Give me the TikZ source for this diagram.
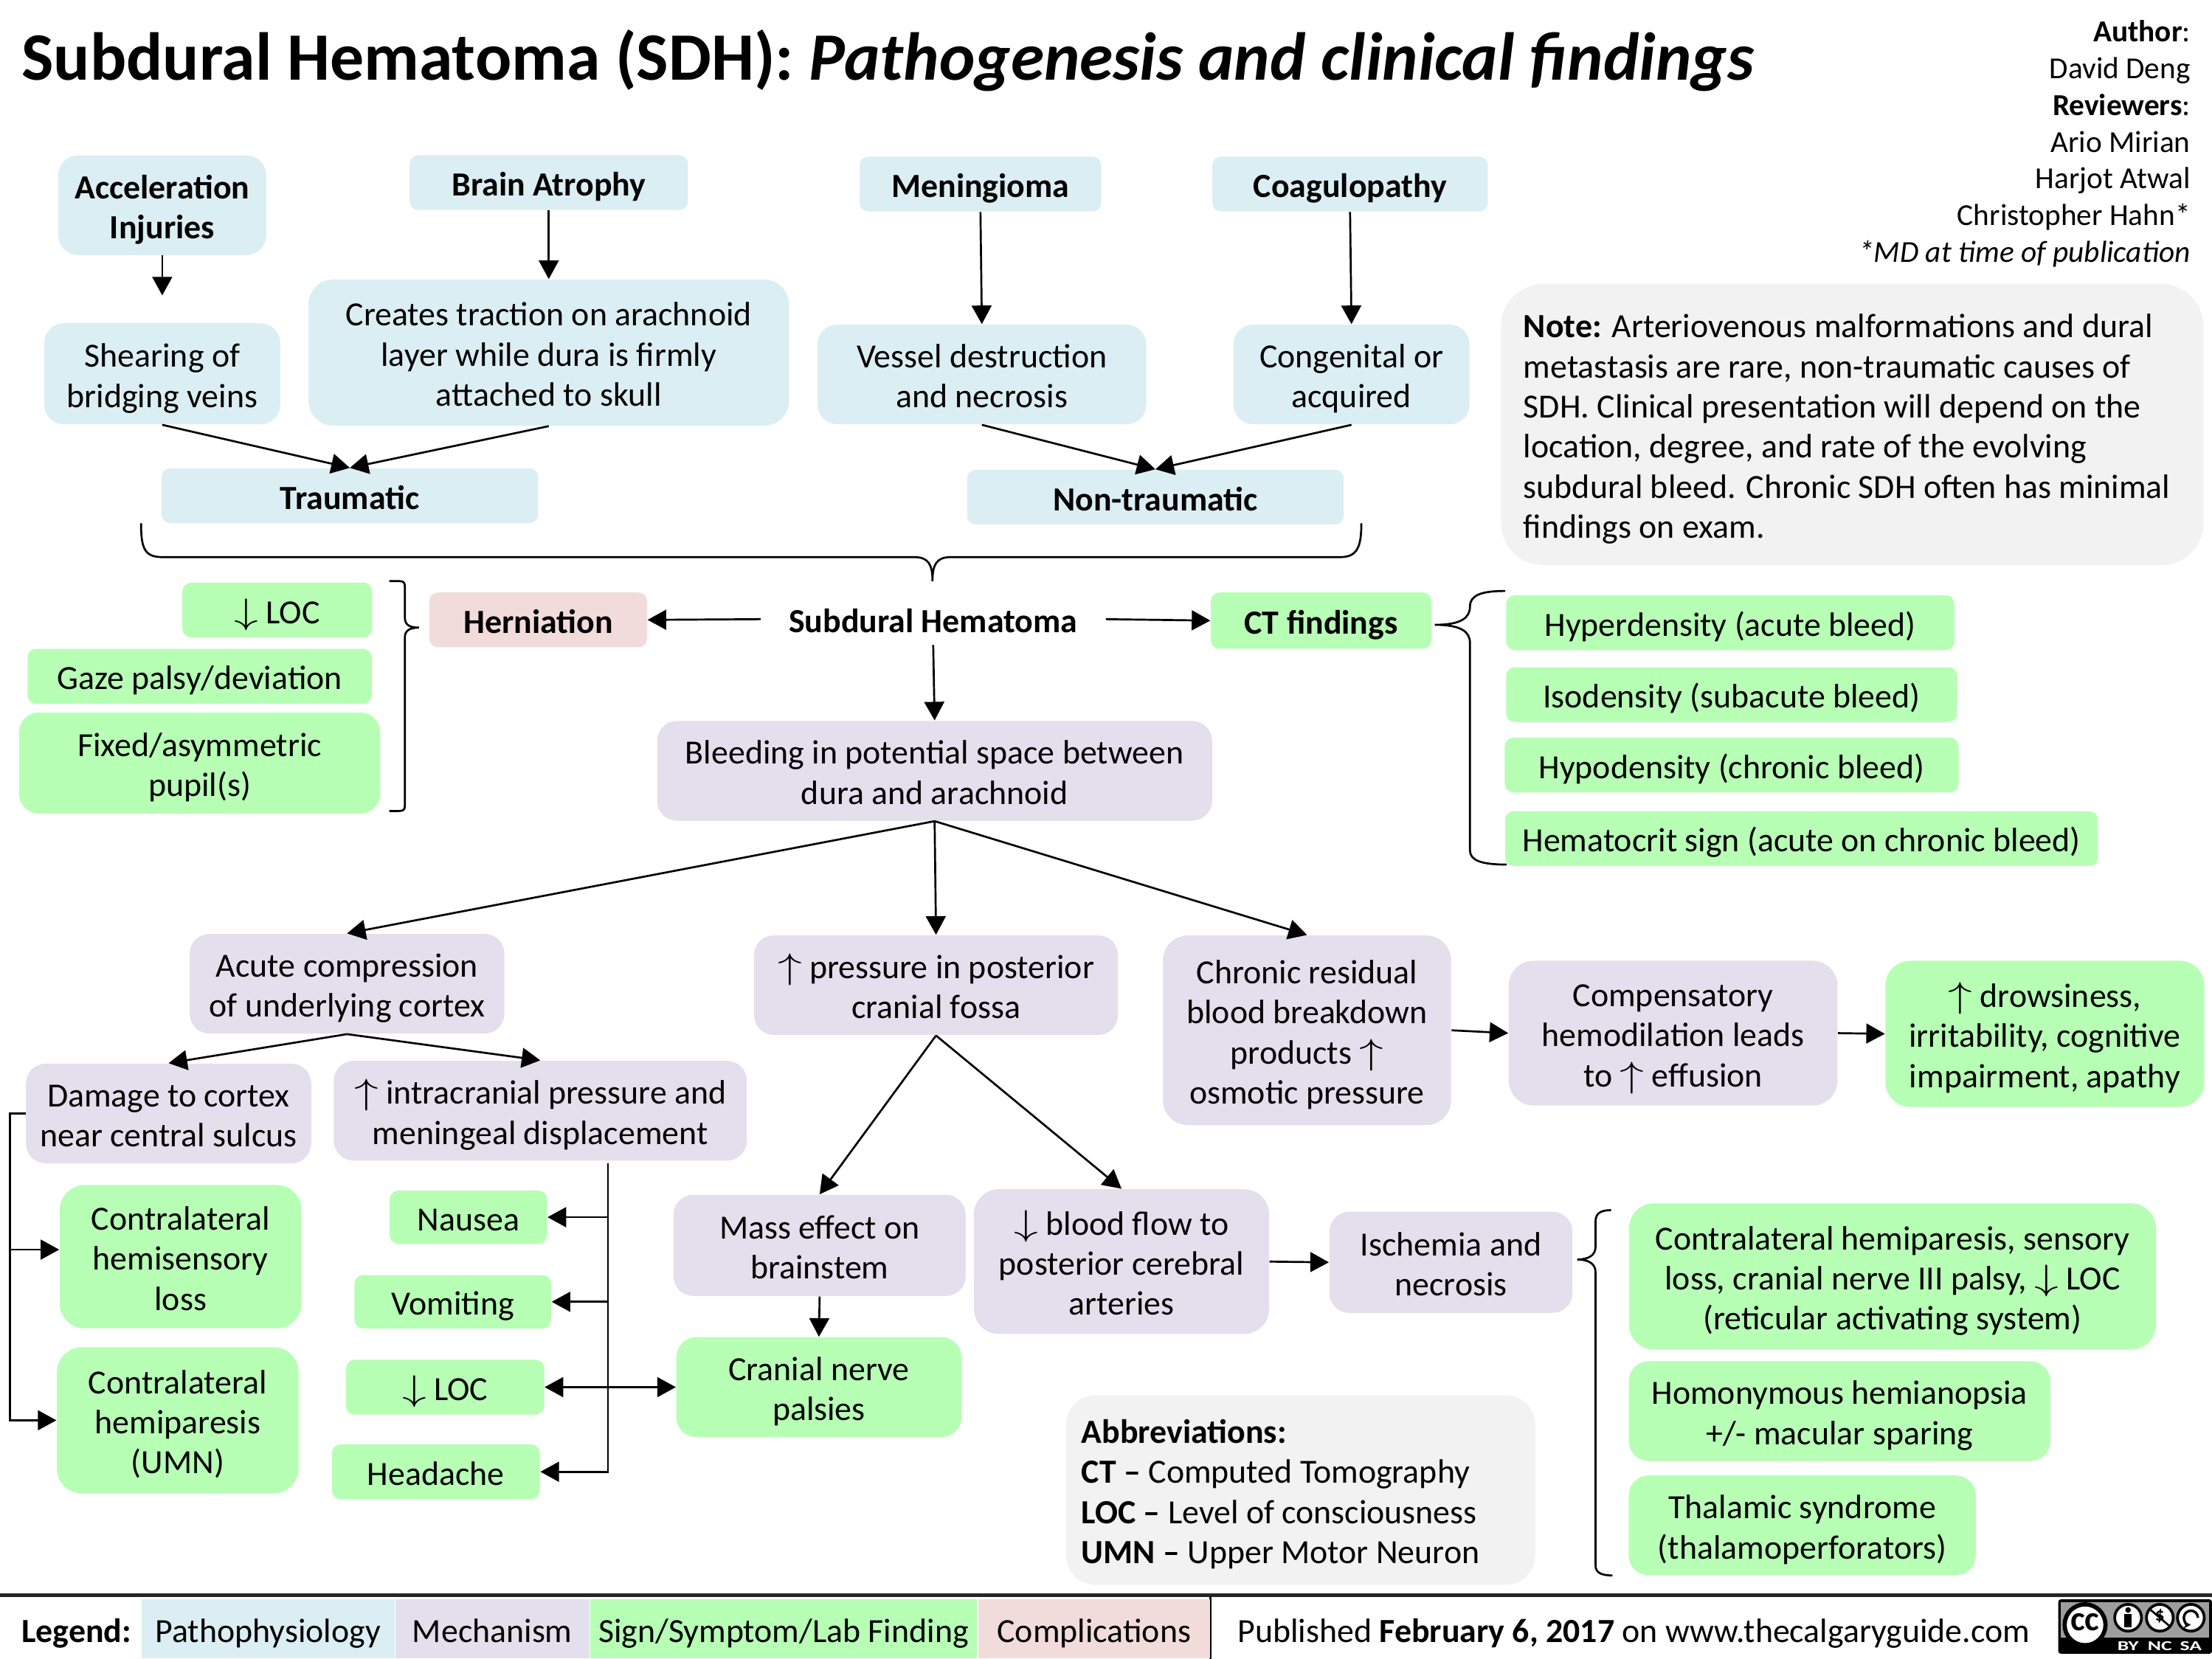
\documentclass[tikz,border=0pt]{standalone}
\usepackage{fontspec}
\setmainfont{Carlito}
\usetikzlibrary{arrows.meta}
\definecolor{pathcol}{HTML}{DBEEF3}
\definecolor{mechcol}{HTML}{E4DFEC}
\definecolor{signcol}{HTML}{B6FFB4}
\definecolor{compcol}{HTML}{F2DCDB}
\definecolor{notecol}{HTML}{F2F2F2}
\newcommand{\upar}{\scalebox{1.35}[1]{$\uparrow$}}
\newcommand{\downar}{\scalebox{1.35}[1]{$\downarrow$}}
\tikzset{
  wh/.style 2 args={minimum width=#1*0.5669pt, minimum height=#2*0.5669pt, text width=#1*0.5669pt},
  box/.style={inner sep=0pt, align=flush center, rounded corners=8pt, font=\fontsize{13.65}{16.2}\selectfont,
    execute at begin node={\rule{0pt}{14pt}}, execute at end node={\rule[-3.2pt]{0pt}{3.2pt}}},
  small/.style={rounded corners=3.5pt},
  pathbox/.style={box, fill=pathcol},
  mechbox/.style={box, fill=mechcol},
  signbox/.style={box, fill=signcol},
  compbox/.style={box, fill=compcol},
  notebox/.style={box, fill=notecol, align=flush left, rounded corners=17pt},
  legbox/.style={box, rounded corners=0pt},
}
\begin{document}
\begin{tikzpicture}[x=0.02cm, y=-0.02cm, >={Triangle[length=7.5pt,width=8pt]}]
\useasboundingbox (0,0) rectangle (1568,1176);

\node[anchor=west, inner sep=0pt, font=\fontsize{27.35}{34}\selectfont\bfseries] (title) at (15,43)
{Subdural Hematoma (SDH): \textit{Pathogenesis and clinical findings}};
\node[anchor=north east, inner sep=0pt, align=right, font=\fontsize{12.3}{14.85}\selectfont] (author) at (1553,14)
{\textbf{Author}:\\David Deng\\\textbf{Reviewers}:\\Ario Mirian\\Harjot Atwal\\Christopher Hahn*\\\textit{*MD at time of publication}};

\node[pathbox, wh={148}{71}] (accel) at (115,145.5) {\textbf{Acceleration}\\\textbf{Injuries}};
\node[pathbox, small, wh={198}{39}] (atrophy) at (389,129.5) {\textbf{Brain Atrophy}};
\node[pathbox, small, wh={172}{39}] (mening) at (695,130.5) {\textbf{Meningioma}};
\node[pathbox, small, wh={196}{39}] (coag) at (957,130.5) {\textbf{Coagulopathy}};
\node[pathbox, wh={168}{72}] (shear) at (115,265) {Shearing of\\bridging veins};
\node[pathbox, rounded corners=10pt, wh={342}{104}] (traction) at (389,250) {Creates traction on arachnoid\\layer while dura is firmly\\attached to skull};
\node[pathbox, wh={234}{71}] (vessel) at (696,265.5) {Vessel destruction\\and necrosis};
\node[pathbox, wh={168}{71}] (congen) at (958,265.5) {Congenital or\\acquired};
\node[pathbox, small, wh={268}{39}] (trauma) at (248,351.5) {\textbf{Traumatic}};
\node[pathbox, small, wh={268}{39}] (nontrauma) at (819,352.5) {\textbf{Non-traumatic}};

\node[notebox, wh={500}{200}, text width=500*0.5669pt-2*16*0.5669pt] (note) at (1313,301)
{\textbf{Note:} Arteriovenous malformations and dural\\metastasis are rare, non-traumatic causes of\\SDH. Clinical presentation will depend on the\\location, degree, and rate of the evolving\\subdural bleed. Chronic SDH often has minimal\\findings on exam.};

\node[signbox, small, wh={135}{39}] (loca) at (196.5,432.5) {\downar{} LOC};
\node[signbox, small, wh={245}{39}] (gaze) at (141.5,479.5) {Gaze palsy/deviation};
\node[signbox, wh={257}{72}] (pupil) at (141.5,541) {Fixed/asymmetric\\pupil(s)};
\node[compbox, small, wh={155}{39}] (hern) at (381.5,439.5) {\textbf{Herniation}};
\node[box, wh={245}{36}] (sdh) at (661.5,439) {\textbf{Subdural Hematoma}};
\node[signbox, small, wh={157}{40}] (ct) at (936.5,440) {\textbf{CT findings}};
\node[signbox, small, wh={319}{39}] (hyper) at (1226.5,441.5) {Hyperdensity (acute bleed)};
\node[signbox, small, wh={321}{39}] (iso) at (1227.5,492.5) {Isodensity (subacute bleed)};
\node[signbox, small, wh={323}{39}] (hypo) at (1227.5,542.5) {Hypodensity (chronic bleed)};
\node[signbox, small, wh={422}{39}] (hemat) at (1277,594.5) {Hematocrit sign (acute on chronic bleed)};
\node[mechbox, wh={395}{71}] (bleed) at (662.5,546.5) {Bleeding in potential space between\\dura and arachnoid};

\node[mechbox, wh={224}{71}] (acute) at (246,697.5) {Acute compression\\of underlying cortex};
\node[mechbox, wh={259}{71}] (post) at (663.5,698.5) {\upar{} pressure in posterior\\cranial fossa};
\node[mechbox, rounded corners=10pt, wh={205}{135}] (chronic) at (926.5,730.5) {Chronic residual\\blood breakdown\\products \upar\\osmotic pressure};
\node[mechbox, rounded corners=10pt, wh={234}{103}] (comp) at (1186,732.5) {Compensatory\\hemodilation leads\\to \upar{} effusion};
\node[signbox, rounded corners=10pt, wh={227}{104}] (drowsy) at (1449.5,733) {\upar{} drowsiness,\\irritability, cognitive\\impairment, apathy};
\node[mechbox, wh={203}{71}] (damage) at (119.5,789.5) {Damage to cortex\\near central sulcus};
\node[mechbox, wh={294}{71}] (icp) at (383,787.5) {\upar{} intracranial pressure and\\meningeal displacement};

\node[signbox, rounded corners=10pt, wh={172}{102}] (hemis) at (128,891) {Contralateral\\hemisensory\\loss};
\node[signbox, rounded corners=10pt, wh={172}{104}] (hemip) at (126,1007) {Contralateral\\hemiparesis\\(UMN)};
\node[signbox, small, wh={112}{38}] (nausea) at (332,863) {Nausea};
\node[signbox, small, wh={140}{38}] (vomit) at (321,923) {Vomiting};
\node[signbox, small, wh={141}{39}] (locb) at (315.5,983.5) {\downar{} LOC};
\node[signbox, small, wh={148}{39}] (head) at (309,1043.5) {Headache};
\node[mechbox, wh={208}{72}] (mass) at (581,883) {Mass effect on\\brainstem};
\node[mechbox, rounded corners=10pt, wh={210}{103}] (flow) at (795,894.5) {\downar{} blood flow to\\posterior cerebral\\arteries};
\node[mechbox, wh={173}{72}] (isch) at (1028.5,895) {Ischemia and\\necrosis};
\node[signbox, wh={203}{71}] (cranial) at (580.5,983.5) {Cranial nerve\\palsies};
\node[signbox, rounded corners=10pt, wh={375}{104}] (hemil) at (1341.5,905) {Contralateral hemiparesis, sensory\\loss, cranial nerve III palsy, \downar{} LOC\\(reticular activating system)};
\node[signbox, wh={300}{71}] (homon) at (1304,1000.5) {Homonymous hemianopsia\\+/- macular sparing};
\node[signbox, wh={247}{71}] (thal) at (1277.5,1081.5) {Thalamic syndrome\\(thalamoperforators)};
\node[notebox, rounded corners=12pt, wh={334}{135}, text width=334*0.5669pt-2*11*0.5669pt] (abbr) at (922,1056.5)
{\textbf{Abbreviations:}\\\textbf{CT --} Computed Tomography\\\textbf{LOC --} Level of consciousness\\\textbf{UMN --} Upper Motor Neuron};

\draw[->, thick, shorten >=11pt] (accel.south) -- (shear.north);
\draw[->, thick] (atrophy.south) -- (traction.north);
\draw[->, thick] (mening.south) -- (vessel.north);
\draw[->, thick] (coag.south) -- (congen.north);
\draw[->, thick] (shear.south) -- (trauma.north);
\draw[->, thick] (traction.south) -- (trauma.north);
\draw[->, thick] (vessel.south) -- (nontrauma.north);
\draw[->, thick] (congen.south) -- (nontrauma.north);
\draw[->, thick] (sdh.west) -- (hern.east);
\draw[->, thick] (sdh.east) -- (ct.west);
\draw[->, thick] (sdh.south) -- (bleed.north);
\draw[->, thick] (bleed.south) -- (acute.north);
\draw[->, thick] (bleed.south) -- (post.north);
\draw[->, thick] (bleed.south) -- (chronic.north);
\draw[->, thick] (acute.south) -- (damage.north);
\draw[->, thick] (acute.south) -- (icp.north);
\draw[->, thick] (post.south) -- (mass.north);
\draw[->, thick] (post.south) -- (flow.north);
\draw[->, thick] (mass.south) -- (cranial.north);
\draw[->, thick] (flow.east) -- (isch.west);
\draw[->, thick] (chronic.east) -- (comp.west);
\draw[->, thick] (comp.east) -- (drowsy.west);

\coordinate (leftbar) at (7,886);
\draw[->, thick] (damage.west) -- (leftbar |- damage.west) -- (leftbar |- hemip.west) -- (hemip.west);
\draw[->, thick] (leftbar) -- (hemis.west |- leftbar);

\coordinate (icptop) at (431,825);
\draw[->, thick] (icptop) |- (head.east);
\draw[->, thick] (nausea.east -| icptop) -- (nausea.east);
\draw[->, thick] (vomit.east -| icptop) -- (vomit.east);
\draw[<->, thick] (locb.east) -- (cranial.west);

% braces
\draw[thick] (100,371) .. controls (100,388) and (102,395) .. (115,395) -- (648,395)
  .. controls (658,395) and (661,400) .. (661,412) .. controls (661,400) and (664,395) .. (674,395)
  -- (950,395) .. controls (962,395) and (965,388) .. (965,371);
\draw[thick] (276,412) -- (283,412) .. controls (286,412) and (287,413) .. (287,416) -- (287,438)
  .. controls (287,442) and (289,445) .. (297,445) .. controls (289,445) and (287,448) .. (287,452)
  -- (287,571) .. controls (287,574) and (286,575) .. (283,575) -- (276,575);
\draw[thick] (1067,419) .. controls (1050,419) and (1042,422) .. (1042,430) .. controls (1042,438) and (1036,443) .. (1017,443)
  .. controls (1036,443) and (1042,448) .. (1042,456) -- (1042,603) .. controls (1042,610) and (1050,613) .. (1068,613);
\draw[thick] (1142,858) .. controls (1135,858) and (1131,860) .. (1131,866) -- (1131,884) .. controls (1131,890) and (1126,893) .. (1118,893)
  .. controls (1126,893) and (1131,896) .. (1131,902) -- (1131,1110) .. controls (1131,1115) and (1135,1117) .. (1143,1117);

% legend
\draw[line width=1.2pt, black!85] (0,1131) -- (1568,1131);
\draw[thick] (858,1132) -- (858,1176);
\node[box, anchor=west, font=\fontsize{13.65}{16.2}\selectfont\bfseries] (legend) at (15,1155) {Legend:};
\node[legbox, fill=pathcol, wh={180}{42}] (legpath) at (190,1155) {Pathophysiology};
\node[legbox, fill=mechcol, wh={138}{42}] (legmech) at (349,1155) {Mechanism};
\node[legbox, fill=signcol, wh={275}{42}] (legsign) at (555.5,1155) {Sign/Symptom/Lab Finding};
\node[legbox, fill=compcol, wh={165}{42}] (legcomp) at (775.5,1155) {Complications};
\node[box, anchor=west] (publ) at (877,1155)
{Published \textbf{February 6, 2017} on www.thecalgaryguide.com};

% licence badge
\fill[black, rounded corners=1pt] (1459,1134) rectangle (1568,1172.5);
\fill[black!38] (1461,1136) rectangle (1566,1161);
\fill[white, draw=black, line width=1.7pt] (1478,1152) circle (14.5);
\node[inner sep=0pt, font=\fontsize{14}{14}\selectfont\bfseries] (ccmark) at (1478,1150) {cc};
\foreach \cx in {1508.5,1531,1553}
  \fill[white, draw=black, line width=1.1pt] (\cx,1147) circle (9.5);
\fill[black] (1508.5,1141.5) circle (2);
\fill[black] (1506,1144.5) rectangle (1511,1153.5);
\node[inner sep=0pt, font=\fontsize{7.5}{8}\selectfont\bfseries] (ncmark) at (1531,1146) {\$};
\draw[line width=0.8pt] (1524,1141) -- (1538,1153);
\draw[line width=1pt, -{Stealth[length=3pt,width=3pt]}] (1558,1147) arc (0:-270:5);
\node[inner sep=0pt, text=white, font=\fontsize{5.5}{6}\selectfont\bfseries] (bylab) at (1508.5,1167) {\scalebox{1.5}[1]{BY}};
\node[inner sep=0pt, text=white, font=\fontsize{5.5}{6}\selectfont\bfseries] (nclab) at (1531,1167) {\scalebox{1.5}[1]{NC}};
\node[inner sep=0pt, text=white, font=\fontsize{5.5}{6}\selectfont\bfseries] (salab) at (1553,1167) {\scalebox{1.5}[1]{SA}};
\end{tikzpicture}
\end{document}
